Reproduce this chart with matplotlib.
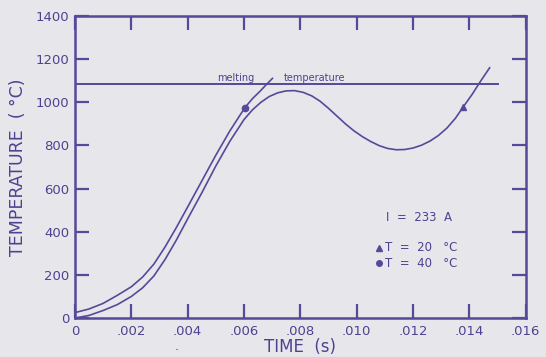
import numpy as np
import matplotlib.pyplot as plt

# tiempos en ms, temperaturas en grados C
t_20 = [0.0, 0.5, 1.0, 1.5, 2.0, 2.4, 2.8, 3.2, 3.6, 4.0, 4.5, 5.0, 5.5, 6.0,
        6.3, 6.6, 6.9, 7.2, 7.5, 7.8, 8.1, 8.4, 8.7, 9.0, 9.3, 9.6, 9.9,
        10.2, 10.5, 10.8, 11.1, 11.4, 11.7, 12.0, 12.3, 12.6, 12.9, 13.2,
        13.5, 13.78, 14.1, 14.4, 14.72]
T_20 = [0, 12, 35, 62, 100, 140, 195, 272, 362, 460, 580, 705, 820, 920,
        965, 1000, 1027, 1044, 1053, 1054, 1046, 1030, 1005, 972, 936, 900, 868,
        841, 818, 799, 786, 780, 781, 788, 801, 820, 846, 880,
        925, 978, 1037, 1098, 1160]

t_40 = [0.0, 0.5, 1.0, 1.5, 2.0, 2.4, 2.8, 3.2, 3.6, 4.0, 4.5, 5.0, 5.5,
        6.03, 6.3, 6.56, 6.8, 7.01]
T_40 = [25, 42, 68, 105, 145, 190, 250, 330, 420, 515, 635, 755, 868,
        975, 1017, 1050, 1083, 1111]

t_mark_20, T_mark_20 = 13.78, 978
t_mark_40, T_mark_40 = 6.03, 975

T_fusion = 1083
t_fusion_fin = 15.0

x_ticks = [0, 0.002, 0.004, 0.006, 0.008, 0.010, 0.012, 0.014, 0.016]
x_labels = ["0", ".002", ".004", ".006", ".008", ".010", ".012", ".014", ".016"]
y_ticks = [0, 200, 400, 600, 800, 1000, 1200, 1400]

morado = "#574899"
texto = "#4f4190"
fondo = "#e7e7eb"

fig = plt.figure(figsize=(5.46, 3.57), dpi=100, facecolor=fondo)
ax = fig.add_axes([0.1374, 0.1092, 0.8254, 0.846], facecolor=fondo)

ax.plot(np.array(t_20) / 1000, T_20, color=morado, lw=1.2)
ax.plot(np.array(t_40) / 1000, T_40, color=morado, lw=1.2)
ax.plot([0, t_fusion_fin / 1000], [T_fusion, T_fusion], color=morado, lw=1.4)

ax.plot([t_mark_20 / 1000], [T_mark_20], marker="^", color=morado, ms=4.5)
ax.plot([t_mark_40 / 1000], [T_mark_40], marker="o", color=morado, ms=4.5)

ax.text(0.00505, 1098, "melting", fontsize=7, color=texto)
ax.text(0.00740, 1098, "temperature", fontsize=7, color=texto)

ax.text(0.01105, 466, "I  =  233  A", fontsize=8.5, color=texto, va="center")
ax.plot([0.01080], [325], marker="^", color=morado, ms=4)
ax.text(0.01100, 325, "T  =  20   °C", fontsize=8.5, color=texto, va="center")
ax.plot([0.01080], [255], marker="o", color=morado, ms=4)
ax.text(0.01100, 255, "T  =  40   °C", fontsize=8.5, color=texto, va="center")

ax.set_xlim(0, 0.016)
ax.set_ylim(0, 1400)
ax.set_xticks(x_ticks)
ax.set_xticklabels(x_labels)
ax.set_yticks(y_ticks)
ax.tick_params(direction="in", length=10, width=1.6, colors=morado,
               labelcolor=texto, labelsize=9.5, top=True, right=True)
ax.tick_params(axis="x", pad=5)
ax.tick_params(axis="y", pad=4)
for s in ax.spines.values():
    s.set_color(morado)
    s.set_linewidth(1.8)

ax.set_xlabel("TIME  (s)", fontsize=12, color=texto, labelpad=0)
ax.set_ylabel("TEMPERATURE  ( °C)", fontsize=12.5, color=texto, labelpad=6)
fig.text(177 / 546, 1 - 350 / 357, ".", fontsize=9, color=texto, ha="center")

fig.savefig("out.png", dpi=100, facecolor=fondo)
